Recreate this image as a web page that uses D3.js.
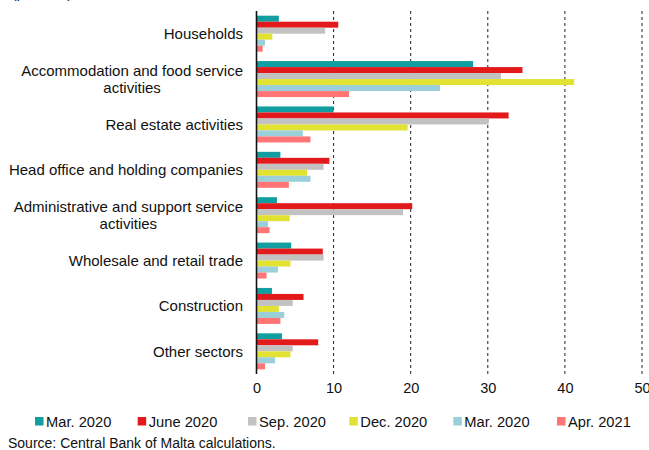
<!DOCTYPE html>
<html><head><meta charset="utf-8">
<script src="https://cdn.jsdelivr.net/npm/d3@7"></script>
<style>
html,body{margin:0;padding:0;background:#fff;}
svg{display:block;font-family:"Liberation Sans",Arial,sans-serif;}
</style></head>
<body><svg id="chart" width="649" height="450"></svg>
<script>
const categories = ["Households","Accommodation and food service activities","Real estate activities","Head office and holding companies","Administrative and support service activities","Wholesale and retail trade","Construction","Other sectors"];
const seriesNames = ["Mar. 2020","June 2020","Sep. 2020","Dec. 2020","Mar. 2020 ","Apr. 2021"];
const seriesLabels = ["Mar. 2020","June 2020","Sep. 2020","Dec. 2020","Mar. 2020","Apr. 2021"];
const colors = ["#109ea0","#e31a1c","#c2c2c2","#e2e232","#9bcfd9","#ff7575"];
const mar2020 = [2.9, 28.1, 10.0, 3.1, 2.65, 4.5, 2.0, 3.3];
const jun2020 = [10.6, 34.5, 32.7, 9.45, 20.2, 8.6, 6.1, 8.0];
const sep2020 = [8.9, 31.7, 30.1, 8.7, 19.0, 8.7, 4.7, 4.7];
const dec2020 = [2.05, 41.2, 19.6, 6.55, 4.3, 4.4, 2.9, 4.4];
const mar2020b = [1.1, 23.8, 6.0, 7.0, 1.5, 2.8, 3.6, 2.4];
const apr2021 = [0.8, 12.0, 7.0, 4.2, 1.7, 1.3, 3.1, 1.1];
const seriesValues = [mar2020, jun2020, sep2020, dec2020, mar2020b, apr2021];
const xTicks = [0,10,20,30,40,50];
const unitLabel = "(per cent)";
const sourceText = "Source: Central Bank of Malta calculations.";

const svg = d3.select("#chart");
const x = d3.scaleLinear().domain([0,50]).range([256.5,642]);
const y = d3.scaleBand().domain(categories).range([11,374]).paddingInner(0.207).paddingOuter(0.1035);
const yInner = d3.scaleBand().domain(d3.range(seriesNames.length)).range([0,y.bandwidth()]).padding(0);

// unit label (mostly cut off at top, as in the reference)
svg.append("text").attr("x",12).attr("y",-2.5).attr("font-size",14).attr("fill","#111").text(unitLabel);

// gridlines
svg.append("g").selectAll("line").data(xTicks.filter(d=>d>0)).join("line")
  .attr("x1",d=>x(d)).attr("x2",d=>x(d)).attr("y1",11).attr("y2",374)
  .attr("stroke","#222").attr("stroke-width",1).attr("stroke-dasharray","3,3");

// bars
const groups = svg.append("g").selectAll("g").data(categories).join("g")
  .attr("transform",d=>`translate(0,${y(d)})`);
groups.each(function(cat,ci){
  d3.select(this).selectAll("rect").data(seriesValues.map((s,si)=>({si,v:s[ci]}))).join("rect")
    .attr("x",x(0)).attr("y",d=>yInner(d.si)).attr("width",d=>x(d.v)-x(0))
    .attr("height",yInner.bandwidth()).attr("fill",d=>colors[d.si]);
});

// x axis tick labels
const xAxis = d3.axisBottom(x).tickValues(xTicks).tickSize(0).tickPadding(0);
const gx = svg.append("g").attr("transform","translate(0,383)").call(xAxis);
gx.select(".domain").remove();
gx.selectAll("text").attr("font-size",14.5).attr("fill","#111").attr("font-family","Liberation Sans, Arial, sans-serif");

// y axis line
svg.append("line").attr("x1",x(0)).attr("x2",x(0)).attr("y1",11).attr("y2",374)
  .attr("stroke","#111").attr("stroke-width",1.6);

// category labels, wrapped, centered within block right-aligned at 243
const labelRight = 243, maxW = 236, fs = 15, lh = 17.6;
categories.forEach(cat=>{
  const words = cat.split(" ");
  const t = svg.append("text").attr("font-size",fs).attr("fill","#111");
  const lines = []; let cur = [];
  const probe = t.append("tspan");
  words.forEach(w=>{
    const test = cur.concat([w]).join(" ");
    probe.text(test);
    if (probe.node().getComputedTextLength() > maxW && cur.length){ lines.push(cur.join(" ")); cur=[w]; }
    else cur.push(w);
  });
  lines.push(cur.join(" "));
  probe.remove();
  const widths = lines.map(l=>{ const p=t.append("tspan").text(l); const w=p.node().getComputedTextLength(); p.remove(); return w; });
  const blockW = d3.max(widths);
  const cx = labelRight - blockW/2;
  const cy = y(cat) + y.bandwidth()/2;
  const startY = cy - (lines.length-1)*lh/2 + fs*0.35;
  t.attr("text-anchor","middle");
  lines.forEach((l,i)=>t.append("tspan").attr("x",cx).attr("y",startY+i*lh).text(l));
});

// legend
const legendX = [35,137.7,248,349.3,453.3,557];
const lg = svg.append("g").selectAll("g").data(seriesLabels).join("g")
  .attr("transform",(d,i)=>`translate(${legendX[i]},417)`);
lg.append("rect").attr("width",8.5).attr("height",8.5).attr("fill",(d,i)=>colors[i]);
lg.append("text").attr("x",11).attr("y",10).attr("font-size",14.7).attr("fill","#111").text(d=>d);

// source
svg.append("text").attr("x",8).attr("y",448).attr("font-size",14).attr("fill","#111").text(sourceText);
</script></body></html>
